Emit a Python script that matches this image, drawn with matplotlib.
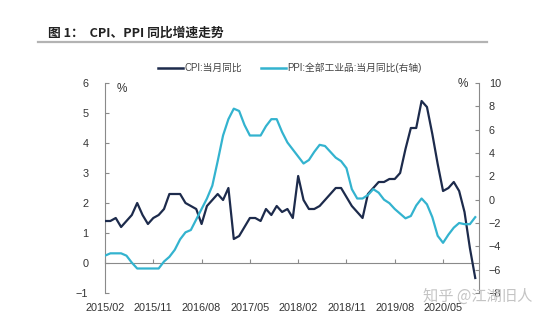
import matplotlib
matplotlib.use("Agg")
import matplotlib.pyplot as plt
from matplotlib.lines import Line2D
import numpy as np

# Monthly year-on-year growth, 2015/02 - 2020/11
cpi = [1.4, 1.4, 1.5, 1.2, 1.4, 1.6, 2.0, 1.6, 1.3, 1.5, 1.6,
       1.8, 2.3, 2.3, 2.3, 2.0, 1.9, 1.8, 1.3, 1.9, 2.1, 2.3, 2.1,
       2.5, 0.8, 0.9, 1.2, 1.5, 1.5, 1.4, 1.8, 1.6, 1.9, 1.7, 1.8,
       1.5, 2.9, 2.1, 1.8, 1.8, 1.9, 2.1, 2.3, 2.5, 2.5, 2.2, 1.9,
       1.7, 1.5, 2.3, 2.5, 2.7, 2.7, 2.8, 2.8, 3.0, 3.8, 4.5, 4.5,
       5.4, 5.2, 4.3, 3.3, 2.4, 2.5, 2.7, 2.4, 1.7, 0.5, -0.5]
ppi = [-4.8, -4.6, -4.6, -4.6, -4.8, -5.4, -5.9, -5.9, -5.9, -5.9, -5.9,
       -5.3, -4.9, -4.3, -3.4, -2.8, -2.6, -1.7, -0.8, 0.1, 1.2, 3.3, 5.5,
       6.9, 7.8, 7.6, 6.4, 5.5, 5.5, 5.5, 6.3, 6.9, 6.9, 5.8, 4.9,
       4.3, 3.7, 3.1, 3.4, 4.1, 4.7, 4.6, 4.1, 3.6, 3.3, 2.7, 0.9,
       0.1, 0.1, 0.4, 0.9, 0.6, 0.0, -0.3, -0.8, -1.2, -1.6, -1.4, -0.5,
       0.1, -0.4, -1.5, -3.1, -3.7, -3.0, -2.4, -2.0, -2.1, -2.1, -1.5]
x_ticklabels = ["2015/02", "2015/11", "2016/08", "2017/05",
                "2018/02", "2018/11", "2019/08", "2020/05"]
title = "图 1：  CPI、PPI 同比增速走势"
cpi_label = "CPI:当月同比"
ppi_label = "PPI:全部工业品:当月同比(右轴)"
watermark = "知乎 @江湖旧人"

CPI_COLOR = "#1d2b4c"
PPI_COLOR = "#33b3cf"
AXIS_COLOR = "#8a8a8a"
TEXT_COLOR = "#333333"
FONTS = ["Liberation Sans", "Noto Sans CJK SC", "DejaVu Sans"]
plt.rcParams["font.family"] = FONTS

W, H = 558, 323
fig = plt.figure(figsize=(W / 100, H / 100), dpi=100)
fig.patch.set_facecolor("white")

x0, x1, ytop, ybot = 105, 479, 83, 293
ax = fig.add_axes([x0 / W, 1 - ybot / H, (x1 - x0) / W, (ybot - ytop) / H])
ax2 = ax.twinx()

months = np.arange(len(cpi))
ax.plot(months, cpi, color=CPI_COLOR, lw=1.6, zorder=3)
ax2.plot(months, ppi, color=PPI_COLOR, lw=1.6, zorder=3)

ax.set_xlim(0, 69.7)
ax.set_ylim(-1, 6)
ax2.set_ylim(-8, 10)
ax.set_yticks(range(-1, 7))
ax2.set_yticks(range(-8, 11, 2))
ax.set_xticks(range(0, len(x_ticklabels) * 9, 9))
ax.set_xticklabels(x_ticklabels)

for a in (ax, ax2):
    for s in a.spines.values():
        s.set_color(AXIS_COLOR)
        s.set_linewidth(0.8)
    a.spines["top"].set_visible(False)
ax.spines["right"].set_visible(False)
ax2.spines["left"].set_visible(False)
ax2.spines["bottom"].set_visible(False)
ax.spines["bottom"].set_position(("data", 0))

ax.tick_params(axis="y", direction="in", length=3, width=0.8, color=AXIS_COLOR,
               labelsize=7.8, labelcolor=TEXT_COLOR, pad=12)
ax2.tick_params(axis="y", direction="in", length=3, width=0.8, color=AXIS_COLOR,
                labelsize=7.8, labelcolor=TEXT_COLOR, pad=7)
ax.tick_params(axis="x", direction="in", length=3, width=0.8, color=AXIS_COLOR,
               labelsize=7.8, labelcolor=TEXT_COLOR, pad=29)

ax.set_facecolor("none")

# percent unit markers
fig.text(122 / W, 1 - 89 / H, "%", fontsize=8.5, color=TEXT_COLOR,
         ha="center", va="center")
fig.text(463 / W, 1 - 84 / H, "%", fontsize=8.5, color=TEXT_COLOR,
         ha="center", va="center")

# title and rule beneath it
fig.text(48 / W, 1 - 33 / H, title, fontsize=9.2, fontweight="bold",
         color="#222222", ha="left", va="center",
         family=["Noto Sans CJK SC", "DejaVu Sans"])
fig.add_artist(Line2D([38 / W, 487 / W], [1 - 42 / H, 1 - 42 / H],
                      color="#b3b3b3", lw=1.6, transform=fig.transFigure))

# legend
handles = [Line2D([], [], color=CPI_COLOR, lw=1.8),
           Line2D([], [], color=PPI_COLOR, lw=1.8)]
fig.legend(handles, [cpi_label, ppi_label], loc="center",
           bbox_to_anchor=(290 / W, 1 - 68 / H), ncol=2, frameon=False,
           fontsize=7, labelcolor="#444444", handlelength=2.6,
           handletextpad=0.15, columnspacing=1.9)

# watermark
fig.text(423 / W, 1 - 296 / H, watermark, fontsize=11, color="#c4c4c4",
         ha="left", va="center", family=["Noto Sans CJK SC", "DejaVu Sans"],
         zorder=10)

fig.savefig("out.png", dpi=100, facecolor="white")
